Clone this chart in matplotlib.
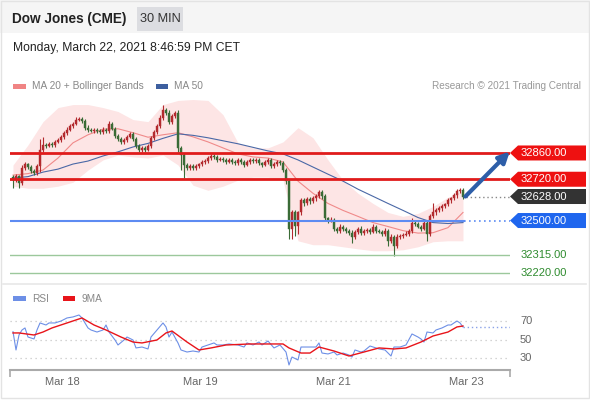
import matplotlib
matplotlib.use('Agg')
import matplotlib.pyplot as plt
from matplotlib.patches import Rectangle, Polygon
from matplotlib.lines import Line2D
from matplotlib.transforms import blended_transform_factory
import numpy as np

plt.rcParams['font.family'] = ['Liberation Sans', 'DejaVu Sans']

# ---------------- data ----------------
title = "Dow Jones (CME)"
interval = "30 MIN"
timestamp = "Monday, March 22, 2021 8:46:59 PM CET"
credit = "Research \u00a9 2021 Trading Central"

first_open = 32730
closes = [
    32715, 32737, 32699, 32780, 32801, 32785, 32763, 32753, 32790, 32876,
    32903, 32898, 32909, 32903, 32919, 32930, 32946, 32968, 32984, 33005,
    33016, 33038, 33043, 33032, 32995, 32984, 32978, 32984, 32978, 32973,
    32984, 32978, 33016, 32989, 32952, 32935, 32919, 32930, 32946, 32962,
    32935, 32898, 32876, 32887, 32876, 32898, 32941, 32973, 33005, 33048,
    33091, 33075, 33027, 33059, 33075, 32887, 32849, 32796, 32780, 32790,
    32780, 32790, 32801, 32812, 32817, 32833, 32844, 32839, 32823, 32828,
    32823, 32812, 32823, 32812, 32806, 32823, 32812, 32796, 32812, 32823,
    32817, 32823, 32806, 32796, 32812, 32823, 32790, 32801, 32812, 32806,
    32769, 32710, 32457, 32543, 32473, 32543, 32608, 32591, 32613, 32602,
    32618, 32629, 32651, 32629, 32511, 32500, 32505, 32457, 32446, 32468,
    32457, 32446, 32435, 32414, 32441, 32457, 32435, 32446, 32452, 32441,
    32468, 32446, 32441, 32430, 32446, 32392, 32414, 32366, 32414, 32419,
    32425, 32430, 32446, 32489, 32484, 32468, 32457, 32489, 32430, 32522,
    32543, 32554, 32565, 32575, 32586, 32608, 32618, 32634, 32656, 32661,
    32628,
]
wick_up = [
    12, 10, 8, 14, 10, 8, 10, 12, 10, 60,
    40, 12, 8, 10, 12, 8, 10, 10, 12, 8,
    10, 12, 8, 10, 10, 12, 8, 10, 10, 8,
    12, 10, 15, 10, 8, 10, 12, 10, 8, 10,
    10, 8, 12, 10, 10, 8, 12, 10, 10, 12,
    27, 10, 12, 10, 10, 15, 10, 12, 8, 10,
    10, 12, 8, 10, 10, 12, 10, 8, 10, 12,
    10, 8, 12, 10, 10, 8, 10, 12, 10, 8,
    10, 12, 10, 8, 10, 12, 10, 10, 8, 12,
    10, 12, 10, 15, 12, 10, 14, 10, 12, 10,
    12, 10, 12, 10, 15, 10, 12, 10, 8, 12,
    10, 8, 10, 12, 10, 8, 12, 10, 10, 8,
    12, 10, 10, 8, 12, 10, 14, 10, 12, 10,
    10, 12, 10, 25, 10, 8, 10, 12, 10, 15,
    50, 12, 10, 12, 10, 12, 10, 15, 12, 10,
    10,
]
wick_dn = [
    43, 10, 27, 12, 10, 12, 10, 10, 12, 30,
    12, 10, 8, 10, 12, 8, 10, 10, 12, 8,
    10, 8, 10, 12, 10, 10, 8, 12, 10, 10,
    12, 10, 10, 8, 12, 10, 10, 12, 10, 8,
    10, 12, 10, 12, 10, 8, 10, 12, 10, 10,
    12, 10, 10, 12, 10, 20, 80, 70, 12, 10,
    12, 10, 10, 8, 12, 10, 10, 12, 10, 8,
    12, 10, 8, 12, 10, 10, 12, 10, 8, 10,
    12, 10, 10, 12, 8, 10, 12, 10, 10, 12,
    12, 15, 54, 54, 54, 43, 12, 15, 10, 12,
    10, 12, 10, 12, 15, 12, 10, 15, 12, 10,
    12, 10, 12, 32, 10, 12, 10, 12, 10, 12,
    10, 12, 10, 12, 10, 26, 12, 54, 12, 10,
    12, 10, 12, 10, 12, 10, 12, 10, 38, 12,
    10, 12, 10, 12, 10, 10, 12, 10, 12, 10,
    12,
]

# moving averages / Bollinger bands, sampled every 5 candles
band_idx = list(range(0, 151, 5))
ma20 = [32742, 32750, 32769, 32833, 32914, 32957, 32987, 32989, 32968, 32944,
        32957, 32968, 32946, 32919, 32887, 32855, 32839, 32833, 32812, 32710,
        32645, 32591, 32554, 32522, 32489, 32468, 32446, 32433, 32435, 32462,
        32543]
ma50 = [32726, 32734, 32758, 32774, 32801, 32817, 32844, 32866, 32892, 32911,
        32938, 32962, 32954, 32941, 32925, 32909, 32890, 32871, 32855, 32823,
        32785, 32747, 32710, 32667, 32629, 32591, 32554, 32516, 32489, 32484,
        32489]
bb_upper = [32796, 32903, 33027, 33102, 33118, 33118, 33102, 33081, 33038, 33027,
            33118, 33140, 33145, 33140, 33064, 32914, 32887, 32887, 32919, 32995,
            32941, 32823, 32715, 32645, 32591, 32543, 32522, 32538, 32575, 32624,
            32661]
bb_lower = [32683, 32672, 32672, 32683, 32704, 32769, 32823, 32849, 32839, 32833,
            32849, 32796, 32688, 32661, 32683, 32715, 32731, 32731, 32715, 32392,
            32371, 32371, 32360, 32349, 32339, 32339, 32344, 32360, 32387, 32392,
            32392]

resistances = [32860, 32720]
pivot = 32500
supports = [32315, 32220]
last_price = 32628
target = 32860

rsi_idx = [0, 1, 2, 3, 4, 5, 7, 8, 9, 11, 12, 14, 16, 18, 20, 22, 23, 25, 26, 28,
           30, 31, 32, 34, 35, 37, 38, 40, 41, 43, 45, 46, 48, 50, 51, 52, 53, 55, 56, 58,
           60, 62, 63, 65, 67, 68, 70, 72, 75, 77, 78, 80, 82, 83, 85, 87, 89, 91, 92, 93,
           95, 96, 99, 101, 102, 103, 105, 107, 108, 110, 112, 113, 114, 116, 117, 119, 121, 122, 124, 126,
           127, 129, 131, 133, 135, 136, 137, 138, 140, 141, 143, 145, 146, 147, 148, 149, 150]
rsi_val = [59.0, 39.2, 55.4, 60.8, 63.0, 53.2, 51.1, 60.8, 68.4, 66.2, 68.4, 68.4, 70.5, 73.8, 74.9, 77.0, 73.8, 63.0, 60.8, 58.6,
           60.8, 66.2, 58.6, 50.0, 44.6, 50.0, 53.2, 50.0, 41.4, 42.4, 40.3, 53.2, 60.8, 68.4, 64.1, 53.2, 58.6, 46.8, 39.2, 37.0,
           38.1, 37.0, 42.4, 44.6, 46.8, 44.6, 44.6, 45.7, 44.6, 42.4, 46.8, 44.6, 47.8, 44.6, 48.9, 41.4, 44.6, 37.0, 23.0, 31.6,
           28.4, 42.4, 42.4, 42.4, 46.8, 35.9, 34.9, 37.0, 33.8, 35.9, 33.8, 31.6, 39.2, 37.0, 38.1, 43.5, 41.4, 40.3, 39.2, 32.7,
           42.4, 42.4, 44.6, 56.5, 53.2, 51.1, 47.8, 58.6, 57.6, 60.8, 63.0, 66.2, 66.2, 68.4, 70.5, 68.4, 64.1]
ma9_idx = [0, 2, 7, 10, 13, 18, 23, 27, 31, 36, 40, 43, 48, 51, 53, 58, 62, 66, 71, 79,
           85, 90, 92, 96, 99, 102, 107, 112, 117, 122, 127, 131, 136, 140, 145, 148, 150]
ma9_val = [57.6, 57.6, 55.4, 58.6, 63.0, 68.4, 73.8, 66.2, 60.8, 53.2, 47.8, 46.8, 50.0, 57.6, 59.7, 47.8, 39.2, 41.4, 44.6, 45.7,
           45.7, 45.7, 41.4, 35.9, 35.9, 42.4, 38.1, 32.7, 37.0, 41.4, 40.3, 41.4, 47.8, 54.3, 58.6, 64.1, 65.1]
rsi_levels = [70, 50, 30]

date_labels = ["Mar 18", "Mar 19", "Mar 21", "Mar 23"]
date_pos = [16.3, 62.3, 106.7, 151.0]

# ---------------- figure ----------------
W, H = 590, 400
fig = plt.figure(figsize=(W / 100, H / 100), dpi=100)
fig.patch.set_facecolor('white')

def fx(px):
    return px / W

def fy(py):
    return 1 - py / H

# header band and frame
fig.add_artist(Rectangle((0, fy(33)), 1, 33 / H, transform=fig.transFigure,
                         facecolor='#f5f5f5', edgecolor='none', zorder=0))
fig.add_artist(Rectangle((fx(137), fy(31)), 46 / W, 24 / H, transform=fig.transFigure,
                         facecolor='#dcdde1', edgecolor='none', zorder=1))
fig.add_artist(Rectangle((fx(0.5), fy(398)), 588.5 / W, 397.5 / H, transform=fig.transFigure,
                         facecolor='none', edgecolor='#e3e3e3', lw=1, zorder=1))
fig.add_artist(Line2D([fx(3), fx(586)], [fy(283.5), fy(283.5)], transform=fig.transFigure,
                      color='#e8e8e8', lw=1.2))

fig.text(fx(12), fy(19), title, fontsize=9.8, fontweight='bold', color='#222222',
         va='center', ha='left')
fig.text(fx(160), fy(19), interval, fontsize=9.2, color='#333333', va='center', ha='center')
fig.text(fx(13), fy(48), timestamp, fontsize=8.7, color='#222222', va='center', ha='left')

# legend row
fig.add_artist(Rectangle((fx(13), fy(89)), 13 / W, 5 / H, transform=fig.transFigure,
                         facecolor='#f08484', edgecolor='none'))
fig.text(fx(32), fy(86), "MA 20 + Bollinger Bands", fontsize=7.3, color='#888888', va='center')
fig.add_artist(Rectangle((fx(156), fy(89)), 12 / W, 5 / H, transform=fig.transFigure,
                         facecolor='#3d5f9f', edgecolor='none'))
fig.text(fx(174), fy(86), "MA 50", fontsize=7.3, color='#888888', va='center')
fig.text(fx(581), fy(86), credit, fontsize=7.2, color='#999999', va='center', ha='right')

# ---------------- price panel ----------------
ax = fig.add_axes([fx(10), fy(283), 500 / W, (283 - 95) / H])
ax.set_xlim(-1, 165.67)
ax.set_ylim(32167, 33169)
ax.axis('off')

ax.fill_between(band_idx, bb_lower, bb_upper, color='#fde5e5', lw=0, zorder=1)
ax.plot(band_idx, ma20, color='#f08a8a', lw=0.8, zorder=2)
ax.plot(band_idx, ma50, color='#4a68a6', lw=0.8, zorder=2)

n = len(closes)
xs = np.arange(n)
opens = [first_open] + closes[:-1]
cols, bottoms, heights, highs, lows = [], [], [], [], []
for o, c, wu, wd in zip(opens, closes, wick_up, wick_dn):
    up = c >= o
    cols.append('#b32a2e' if up else '#3a6b36')
    bottoms.append(min(o, c))
    heights.append(max(abs(c - o), 4))
    highs.append(max(o, c) + wu)
    lows.append(min(o, c) - wd)
ax.vlines(xs, lows, highs, colors=cols, lw=0.8, zorder=4)
ax.bar(xs, heights, bottom=bottoms, width=0.8, color=cols, edgecolor=cols, lw=0.3, zorder=5)

# level lines
for r in resistances:
    ax.axhline(r, color='#e01b1b', lw=2, zorder=6)
ax.plot([-1, 150.3], [pivot, pivot], color='#5d8bf2', lw=1.5, zorder=6)
ax.plot([150.3, 165.67], [pivot, pivot], color='#5d8bf2', lw=1.2, ls=(0, (1, 2)), zorder=6)
for s in supports:
    ax.axhline(s, color='#9cc89c', lw=1, zorder=6)
ax.plot([151, 165.67], [last_price, last_price], color='#888888', lw=1, ls=(0, (1, 2)), zorder=6)

# target arrow
ax.annotate('', xy=(165.6, target + 8), xytext=(150.8, last_price),
            arrowprops=dict(arrowstyle='-|>', color='#2d5ea8', lw=3,
                            mutation_scale=16, shrinkA=0, shrinkB=0),
            zorder=7, annotation_clip=False)

# price labels
bt = blended_transform_factory(ax.transAxes, ax.transData)
def price_label(price, text, face, tcolor='white', box=True):
    if box:
        h = 40
        poly = Polygon([(1.0, price), (1.016, price + h), (1.152, price + h),
                        (1.152, price - h), (1.016, price - h)], closed=True,
                       transform=bt, facecolor=face, edgecolor='none', clip_on=False, zorder=8)
        ax.add_patch(poly)
    ax.text(1.021, price, text, transform=bt, fontsize=8, color=tcolor,
            va='center', ha='left', clip_on=False, zorder=9)

for r in resistances:
    price_label(r, f"{r:.2f}", '#ee1111')
price_label(last_price, f"{last_price:.2f}", '#333333')
price_label(pivot, f"{pivot:.2f}", '#1f66ee')
for s in supports:
    price_label(s, f"{s:.2f}", None, tcolor='#2e8b2e', box=False)

# ---------------- RSI panel ----------------
rax = fig.add_axes([fx(10), fy(370), 500 / W, (370 - 305) / H])
rax.set_xlim(-1, 165.67)
rax.set_ylim(17.57, 87.8)
for sp in ['top', 'left', 'right']:
    rax.spines[sp].set_visible(False)
rax.spines['bottom'].set_color('#aaaaaa')
rax.spines['bottom'].set_linewidth(1.5)
rax.set_yticks([])
rax.set_xticks([-1, 165.67])
rax.set_xticklabels(['', ''])
rax.tick_params(axis='x', length=5, width=1.2, color='#aaaaaa', direction='out')
rax.patch.set_alpha(0)

for lv in rsi_levels:
    rax.axhline(lv, color='#c6c6c6', lw=0.9, ls=(0, (1, 3)), zorder=1)
    rax.text(1.02, lv, str(lv), transform=blended_transform_factory(rax.transAxes, rax.transData),
             fontsize=8, color='#666666', va='center', ha='left', clip_on=False)

rax.plot(rsi_idx, rsi_val, color='#6d8fe6', lw=0.8, zorder=3)
rax.plot(ma9_idx, ma9_val, color='#e8141a', lw=1.0, zorder=4)
rax.plot([rsi_idx[-1], 165.67], [rsi_val[-1], rsi_val[-1]], color='#8aa2e8', lw=1,
         ls=(0, (1, 2)), zorder=2)

dt = blended_transform_factory(rax.transData, rax.transAxes)
for lab, pos in zip(date_labels, date_pos):
    rax.text(pos, -12 / 65, lab, transform=dt, fontsize=8, color='#666666',
             ha='center', va='center', clip_on=False)

# RSI legend
fig.add_artist(Rectangle((fx(13), fy(301)), 13 / W, 5 / H, transform=fig.transFigure,
                         facecolor='#6d8fe6', edgecolor='none'))
fig.text(fx(32), fy(298.5), "RSI", fontsize=7.3, color='#888888', va='center')
fig.add_artist(Rectangle((fx(63), fy(301)), 12 / W, 5 / H, transform=fig.transFigure,
                         facecolor='#e8141a', edgecolor='none'))
fig.text(fx(81), fy(298.5), "9MA", fontsize=7.3, color='#888888', va='center')

fig.savefig('out.png', dpi=100)
